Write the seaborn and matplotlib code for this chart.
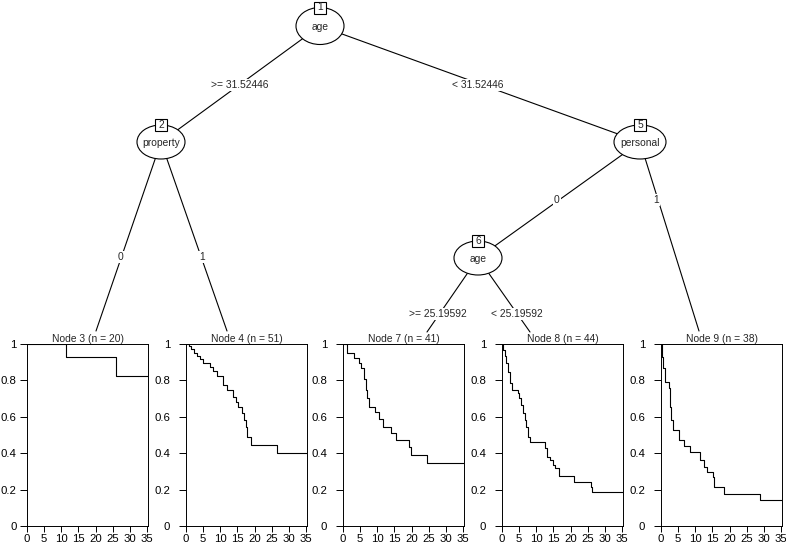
import numpy as np
import pandas as pd
import matplotlib
matplotlib.use("Agg")
import matplotlib.pyplot as plt
from matplotlib.patches import Ellipse, Rectangle
import seaborn as sns

sns.set_style("white")
plt.rcParams['font.family'] = ['Liberation Sans', 'DejaVu Sans']

# inner nodes
inner_ids = [1, 2, 5, 6]
inner_vars = ["age", "property", "personal", "age"]

# split labels for edges (parent -> child)
edge_pairs = [(1, 2), (1, 5), (2, 3), (2, 4), (5, 6), (5, 9), (6, 7), (6, 8)]
edge_labels = [">= 31.52446", "< 31.52446", "0", "1", "0", "1",
               ">= 25.19592", "< 25.19592"]

# terminal nodes
leaf_ids = [3, 4, 7, 8, 9]
leaf_n = [20, 51, 41, 44, 38]

# Kaplan-Meier steps (time, survival)
km_time = {
    3: [0, 11.4, 26.1],
    4: [0, 0.8, 1.5, 2.2, 3.2, 4.2, 5.1, 6.9, 8.0, 9.0, 10.9, 12.1, 13.8,
        14.6, 15.3, 16.3, 16.9, 17.4, 17.9, 18.9, 26.6],
    7: [0, 1.2, 3.2, 4.6, 5.3, 6.1, 6.6, 6.9, 7.5, 9.2, 10.6, 11.6, 14.0,
        15.4, 19.3, 19.8, 24.6],
    8: [0, 0.3, 0.8, 1.3, 1.7, 2.4, 3.0, 4.6, 5.1, 5.6, 6.1, 6.6, 7.1, 7.5,
        8.2, 12.4, 13.1, 14.0, 14.8, 15.6, 16.7, 21.1, 25.9, 26.4],
    9: [0, 0.2, 0.6, 1.1, 2.2, 2.5, 2.9, 3.5, 5.2, 6.6, 8.6, 11.5, 12.5,
        13.5, 15.2, 15.6, 18.5, 28.9],
}
km_surv = {
    3: [1.0, 0.929, 0.826],
    4: [1.0, 0.987, 0.972, 0.95, 0.936, 0.917, 0.895, 0.871, 0.849, 0.825,
        0.776, 0.748, 0.711, 0.684, 0.653, 0.62, 0.583, 0.546, 0.491,
        0.445, 0.40],
    7: [1.0, 0.95, 0.923, 0.895, 0.868, 0.807, 0.748, 0.702, 0.653, 0.625,
        0.586, 0.546, 0.509, 0.472, 0.436, 0.39, 0.344],
    8: [1.0, 0.969, 0.932, 0.895, 0.844, 0.785, 0.748, 0.73, 0.702, 0.665,
        0.62, 0.583, 0.546, 0.49, 0.463, 0.426, 0.381, 0.36, 0.335, 0.316,
        0.274, 0.243, 0.215, 0.1875],
    9: [1.0, 0.93, 0.87, 0.79, 0.757, 0.656, 0.583, 0.528, 0.472, 0.44,
        0.408, 0.362, 0.325, 0.298, 0.27, 0.215, 0.178, 0.142],
}
t_max = 35.3
x_ticks = [0, 5, 10, 15, 20, 25, 30, 35]
y_ticks = [0, 0.2, 0.4, 0.6, 0.8, 1]
y_ticklabels = ["0", "0.2", "0.4", "0.6", "0.8", "1"]

# ---- layout (pixels) ----
W, H = 786, 547
node_pos = {1: (320, 26), 2: (161, 142), 5: (640, 142), 6: (478, 258)}
ell_size = {1: (48, 37), 2: (48, 34), 5: (52, 34), 6: (48, 34)}
leaf_top = {3: (96, 331), 4: (227, 331), 7: (427, 332), 8: (530, 332), 9: (699, 331)}
label_pos = [(240, 85), (478, 85), (121, 257), (202, 257), (557, 200),
             (656, 200), (438, 314), (517, 314)]
panel_left = {3: 27, 4: 186, 7: 343, 8: 502, 9: 661}
panel_w, panel_top, panel_bot = 121, 344, 526

fs = 7.4
fig = plt.figure(figsize=(W / 100, H / 100), dpi=100)
ax0 = fig.add_axes([0, 0, 1, 1])
ax0.set_xlim(0, W)
ax0.set_ylim(H, 0)
ax0.axis('off')

allpos = dict(node_pos)
allpos.update(leaf_top)
for (a, b), lab, (lx, ly) in zip(edge_pairs, edge_labels, label_pos):
    x1, y1 = allpos[a]
    x2, y2 = allpos[b]
    ax0.plot([x1, x2], [y1, y2], color='black', lw=0.8, zorder=1)
    ax0.text(lx, ly, lab, ha='center', va='center', fontsize=fs, zorder=3,
             bbox=dict(boxstyle='square,pad=0.1', fc='white', ec='none'))

for nid, var in zip(inner_ids, inner_vars):
    x, y = node_pos[nid]
    w, h = ell_size[nid]
    ax0.add_patch(Ellipse((x, y), w, h, fc='white', ec='black', lw=0.8, zorder=2))
    ax0.text(x, y + 1, var, ha='center', va='center', fontsize=fs, zorder=3)
    by = y - h / 2
    ax0.add_patch(Rectangle((x - 6, by - 6), 12, 12, fc='white', ec='black',
                            lw=0.8, zorder=4))
    ax0.text(x, by, str(nid), ha='center', va='center', fontsize=fs, zorder=5)

for i, (nid, n) in enumerate(zip(leaf_ids, leaf_n)):
    left = panel_left[nid]
    ax = fig.add_axes([left / W, 1 - panel_bot / H, panel_w / W,
                       (panel_bot - panel_top) / H])
    df = pd.DataFrame({"time": km_time[nid] + [t_max + 1],
                       "surv": km_surv[nid] + [km_surv[nid][-1]]})
    sns.lineplot(data=df, x="time", y="surv", drawstyle='steps-post',
                 color='black', lw=0.8, estimator=None, sort=False, ax=ax)
    ax.set_xlim(0, t_max)
    ax.set_ylim(0, 1)
    ax.set_xlabel('')
    ax.set_ylabel('')
    ax.set_xticks(x_ticks)
    ax.set_yticks(y_ticks)
    ax.set_yticklabels(y_ticklabels)
    ax.tick_params(axis='x', length=4.3, width=0.7, labelsize=8.2,
                   pad=1.3, colors='black', direction='out', bottom=True)
    ax.tick_params(axis='y', length=5, width=0.7, labelsize=8.2,
                   pad=2.5 if i == 0 else 6.5, colors='black',
                   direction='out', left=True)
    for sp in ax.spines.values():
        sp.set_visible(True)
        sp.set_color('black')
        sp.set_linewidth(0.7)
    ax.text(0.5, 1.0, f"Node {nid} (n = {n})", transform=ax.transAxes,
            ha='center', va='bottom', fontsize=fs)

fig.savefig("out.png", dpi=100)
